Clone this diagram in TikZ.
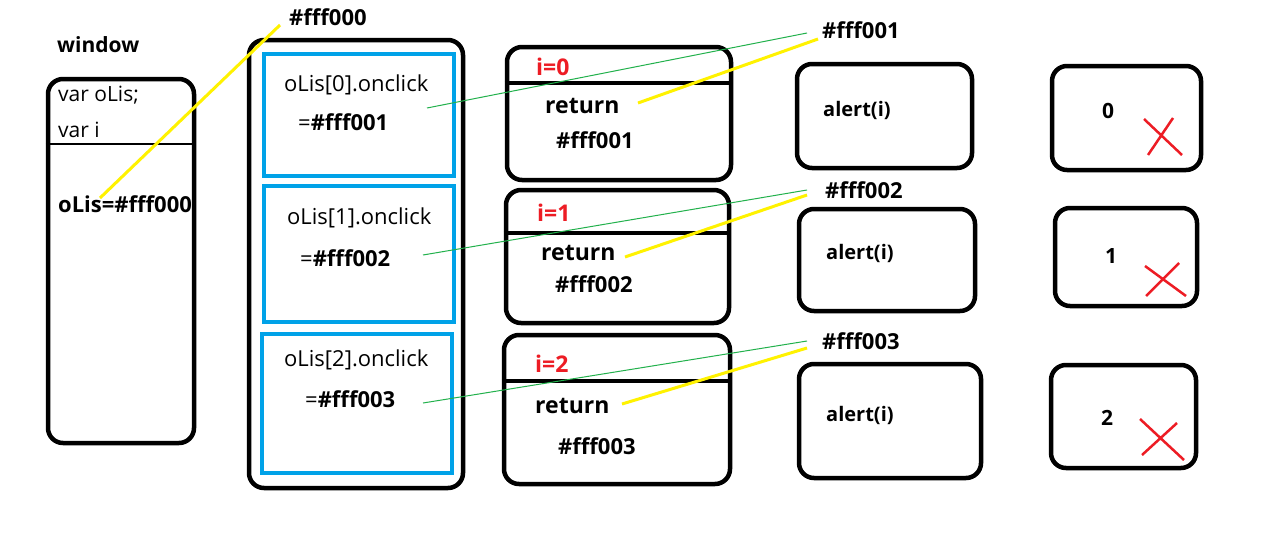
\documentclass[tikz,border=0pt]{standalone}
\usepackage{fontspec}
\setmainfont{Open Sans}
\definecolor{pblue}{HTML}{00A2E8}
\definecolor{pred}{HTML}{ED1C24}
\definecolor{pyel}{HTML}{FFF200}
\definecolor{pgreen}{HTML}{22B14C}
\tikzset{
  box/.style={draw=black,line width=4.5pt,rounded corners=15pt,inner sep=0pt},
  bluebox/.style={draw=pblue,line width=3.5pt,inner sep=0pt},
  divider/.style={line width=4pt},
  txt/.style={anchor=west,inner sep=0pt,font=\fontsize{22}{26}\selectfont},
  btxt/.style={txt,font=\fontsize{22}{26}\selectfont\bfseries},
  ctxt/.style={anchor=center,inner sep=0pt,font=\fontsize{21}{24}\selectfont\bfseries},
  yline/.style={draw=pyel,line width=3pt},
  gline/.style={draw=pgreen,line width=1pt},
  xmark/.style={draw=pred,line width=2.5pt},
}
\begin{document}
\begin{tikzpicture}[x=1pt,y=-1pt]
\useasboundingbox[fill=white] (0,0) rectangle (1273,541);
% window
\node[box,minimum width=146pt,minimum height=364pt] (win) at (121,261) {};
\draw[line width=2.5pt] (win.west |- 0,144) -- (win.east |- 0,144);
\node[btxt,font=\fontsize{21}{25}\selectfont\bfseries] (wlab) at (57,45) {window};
\node[txt,font=\fontsize{21}{25}\selectfont] (v1) at (58,95) {var oLis;};
\node[txt,font=\fontsize{21}{25}\selectfont] (v2) at (58,130) {var i};
\node[btxt] (olis) at (58,204) {oLis=\#fff000};
\node[btxt] (a0) at (289,17) {\#fff000};
% outer list box
\node[box,minimum width=214pt,minimum height=448pt] (lst) at (356,264) {};
\node[bluebox,minimum width=190pt,minimum height=122pt] (b1) at (359,115) {};
\node[bluebox,minimum width=190pt,minimum height=136pt] (b2) at (359,254) {};
\node[bluebox,minimum width=190pt,minimum height=139pt] (b3) at (357,403.5) {};
\node[txt] (o1) at (284,85) {oLis[0].onclick};
\node[txt] (e1) at (298,122) {=\textbf{\#fff001}};
\node[txt] (o2) at (287,218) {oLis[1].onclick};
\node[txt] (e2) at (300,258) {=\textbf{\#fff002}};
\node[txt] (o3) at (284,360) {oLis[2].onclick};
\node[txt] (e3) at (305,399) {=\textbf{\#fff003}};
% function boxes
\node[box,minimum width=224pt,minimum height=133pt] (f1) at (619,113.5) {};
\node[box,minimum width=223pt,minimum height=133pt] (f2) at (617.5,256.5) {};
\node[box,minimum width=226pt,minimum height=149pt] (f3) at (617,409.5) {};
\draw[divider] (f1.west |- 0,83) -- (f1.east |- 0,83);
\draw[divider] (f2.west |- 0,233) -- (f2.east |- 0,233);
\draw[divider] (f3.west |- 0,381) -- (f3.east |- 0,381);
\node[btxt,text=pred,font=\fontsize{23}{27}\selectfont\bfseries] (i0) at (536,67) {i=0};
\node[btxt,font=\fontsize{23}{27}\selectfont\bfseries] (r1) at (545,106) {return};
\node[btxt] (h1) at (556,140) {\#fff001};
\node[btxt,text=pred,font=\fontsize{23}{27}\selectfont\bfseries] (i1) at (537,213) {i=1};
\node[btxt,font=\fontsize{23}{27}\selectfont\bfseries] (r2) at (541,253) {return};
\node[btxt] (h2) at (555,284) {\#fff002};
\node[btxt,text=pred,font=\fontsize{23}{27}\selectfont\bfseries] (i2) at (535,364) {i=2};
\node[btxt,font=\fontsize{23}{27}\selectfont\bfseries] (r3) at (535,406) {return};
\node[btxt] (h3) at (558,446) {\#fff003};
% address labels
\node[btxt] (a1) at (822,30) {\#fff001};
\node[btxt] (a2) at (825,190) {\#fff002};
\node[btxt] (a3) at (822,341) {\#fff003};
% alert boxes
\node[box,minimum width=175pt,minimum height=104pt] (al1) at (884.5,116) {};
\node[box,minimum width=176pt,minimum height=102pt] (al2) at (887,260) {};
\node[box,minimum width=182pt,minimum height=114pt] (al3) at (890,421) {};
\node[btxt,font=\fontsize{20}{24}\selectfont\bfseries] (t1) at (823,110) {alert(i)};
\node[btxt,font=\fontsize{20}{24}\selectfont\bfseries] (t2) at (826,253) {alert(i)};
\node[btxt,font=\fontsize{20}{24}\selectfont\bfseries] (t3) at (826,415) {alert(i)};
% value boxes
\node[box,minimum width=149pt,minimum height=104pt] (vb1) at (1126.5,118) {};
\node[box,minimum width=142pt,minimum height=98pt] (vb2) at (1126,257) {};
\node[box,minimum width=145pt,minimum height=103pt] (vb3) at (1123.5,416.5) {};
\node[ctxt] (n0) at (1108,111) {0};
\node[ctxt] (n1) at (1111,256) {1};
\node[ctxt] (n2) at (1107,418) {2};
\draw[xmark] (1144,119) -- (1182,155) (1173,118) -- (1148,155);
\draw[xmark] (1145,266) -- (1186,296) (1179,263) -- (1146,296);
\draw[xmark] (1140,419) -- (1184,460) (1177,423) -- (1142,455);
% connectors
\coordinate (y0a) at (100,198); \coordinate (y0b) at (280,25);
\draw[yline] (y0a) -- (y0b);
\coordinate (g1a) at (427,108); \coordinate (g1b) at (807,33);
\coordinate (g2a) at (423,255); \coordinate (g2b) at (807,190);
\coordinate (g3a) at (423,403); \coordinate (g3b) at (807,341);
\draw[gline] (g1a) -- (g1b);
\draw[gline] (g2a) -- (g2b);
\draw[gline] (g3a) -- (g3b);
\coordinate (y1a) at (638,103); \coordinate (y1b) at (818,39);
\coordinate (y2a) at (625,257); \coordinate (y2b) at (807,195);
\coordinate (y3a) at (622,404); \coordinate (y3b) at (807,348);
\draw[yline] (y1a) -- (y1b);
\draw[yline] (y2a) -- (y2b);
\draw[yline] (y3a) -- (y3b);
\end{tikzpicture}
\end{document}
